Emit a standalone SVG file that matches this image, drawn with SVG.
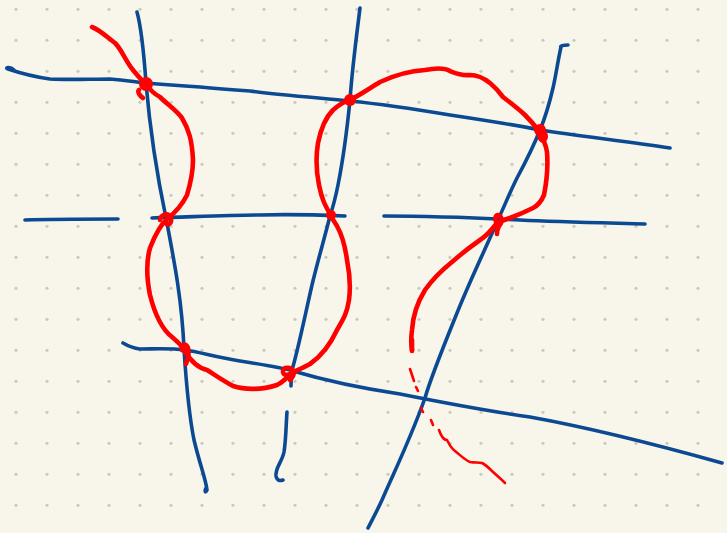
<svg xmlns="http://www.w3.org/2000/svg" width="727" height="533" viewBox="0 0 727 533">
<defs>
<pattern id="dots" patternUnits="userSpaceOnUse" width="31" height="31">
<circle cx="16" cy="9.3" r="1.6" fill="#cccac0"/>
</pattern>
<style>
.b{fill:none;stroke:#0b4a92;stroke-width:3.6;stroke-linecap:round;stroke-linejoin:round}
.r{fill:none;stroke:#ff0000;stroke-width:4.6;stroke-linecap:round;stroke-linejoin:round}
.rt{fill:none;stroke:#ff0000;stroke-width:2.6;stroke-linecap:round;stroke-linejoin:round}
.k{fill:#ff0000}
</style>
</defs>
<rect width="727" height="533" fill="#f8f6ea"/>
<rect width="727" height="533" fill="url(#dots)"/>
<g id="blue">
<path class="b" d="M14,70 C10,66 4,68 8,69 C20,73 35,77 50,79 C70,80 90,79 110,79 C125,80 135,82 145,83 C170,85 185,86 200,87 C220,89 235,90 250,91 C280,95 320,98 350,101 C380,104 420,110 450,115 C490,121 520,126 540,130 C580,136 630,142 670,148"/>
<path class="b" d="M25,220 C50,219 90,219 118,219"/>
<path class="b" d="M152,218 C190,217 230,215 260,215 C290,214 320,215 345,216"/>
<path class="b" d="M384,216 C430,216 480,218 520,220 C560,222 610,223 645,224"/>
<path class="b" d="M123,343 C128,346 132,348 140,349 C155,349 170,348 185,350 C200,352 215,357 240,361 C265,365 280,367 293,371 C320,379 360,388 400,394 C440,402 480,410 530,417 C580,426 640,440 722,463"/>
<path class="b" d="M137,12 C142,30 144,55 146,83 C150,130 158,180 166,218 C174,260 182,300 184,349 C186,380 188,410 194,440 C200,465 206,480 207,490 C206,493 204,492 206,488"/>
<path class="b" d="M360,8 C356,40 352,70 350,100 C347,130 343,160 338,185 C335,200 332,210 330,216 C324,240 318,260 312,285 C304,320 298,350 292,370 C291,378 291,382 291,386"/>
<path class="b" d="M287,412 C286,425 286,440 284,452 C282,462 275,468 276,476 C277,481 280,481 283,480"/>
<path class="b" d="M568,45 C563,45 560,46 561,47 C558,60 556,75 553,88 C549,105 545,118 540,130 C532,150 524,165 517,178 C510,192 504,207 497,222 C485,250 470,280 455,318 C440,355 430,380 425,398 C410,440 395,470 382,500 C376,513 371,522 368,528"/>
</g>
<g id="red">
<path class="r" d="M92,27 C100,30 108,38 115,43 C122,50 125,60 133,70 C138,76 141,80 145,83 C150,90 156,95 160,97 C168,105 176,110 182,118 C189,130 192,140 193,160 C193,175 190,185 187,195 C182,205 176,212 168,218 C160,225 155,235 150,248 C146,262 147,280 150,295 C155,315 163,330 172,337 C178,342 182,346 184,350 C190,360 198,368 207,370 C215,375 222,380 233,386 C245,390 262,390 277,385 C283,382 287,378 291,373 C300,369 305,367 310,364 C320,357 330,345 337,330 C344,318 347,313 349,300 C351,285 349,270 347,260 C345,245 342,235 337,226 C333,220 331,216 330,214 C325,205 322,200 319,185 C316,170 316,155 318,143 C321,128 325,118 333,110 C340,104 345,101 350,100 C360,95 370,88 380,82 C395,75 408,71 425,70 C435,68 445,68 450,71 C455,73 462,76 470,75 C478,75 485,79 490,83 C496,88 500,93 503,97 C512,104 520,110 525,115 C532,122 535,126 538,130 C543,138 546,145 547,152 C548,165 547,180 544,195 C541,202 537,206 533,208 C525,212 518,215 510,218 C505,220 500,221 497,223 C490,232 485,237 480,240 C470,247 460,255 452,262 C442,270 432,280 425,290 C417,303 413,315 412,330 C411,338 411,345 412,350"/>
<circle class="k" cx="146" cy="84" r="7"/>
<path class="r" d="M139,90 C137,92 140,96 143,98"/>
<circle class="k" cx="350" cy="100" r="6"/>
<circle class="k" cx="331" cy="215" r="5"/>
<circle class="k" cx="540" cy="130" r="6"/>
<path class="r" d="M540,132 C546,130 547,138 544,140 C541,142 538,136 540,132"/>
<path class="r" d="M160,220 C160,214 170,212 171,218 C172,224 167,227 165,222"/>
<path class="r" d="M182,350 C180,345 186,342 188,348 C190,354 187,360 186,364"/>
<path class="r" d="M293,372 C290,376 282,376 283,371 C284,366 292,367 294,372 C294,375 292,378 290,380"/>
<path class="r" d="M498,225 C495,222 494,216 498,215 C502,216 503,222 499,226 C497,230 497,232 497,234"/>
<path class="r" d="M412,340 L412,351"/>
<path class="rt" d="M410,369 L414,381"/>
<path class="rt" d="M416,387 L418,391"/>
<path class="rt" d="M421,408 L423,412"/>
<path class="rt" d="M431,420 L433,425"/>
<path class="rt" d="M439,430 C441,436 443,440 447,440 C450,446 452,449 455,451 C460,455 465,460 470,462 C475,463 479,462 482,463 C486,465 489,468 492,471 C496,475 500,478 505,483"/>
</g>
</svg>
